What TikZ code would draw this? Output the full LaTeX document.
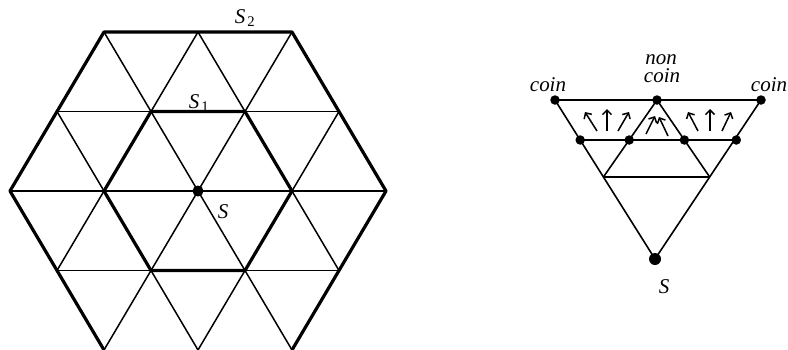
\documentclass[tikz,border=0pt]{standalone}
\usepackage{fontspec}
\setmainfont{Liberation Serif}
\usetikzlibrary{arrows.meta}
\begin{document}
\begin{tikzpicture}[x=1pt,y=-1pt,
  gridline/.style={line width=1.5pt,line join=round},
  boldline/.style={line width=3.2pt,line join=round},
  rline/.style={line width=1.6pt,line join=round},
  dot/.style={circle,fill,inner sep=0pt,minimum size=9.5pt},
  bigdot/.style={circle,fill,inner sep=0pt,minimum size=12pt},
  lbl/.style={font=\fontsize{21}{16}\selectfont\itshape,inner sep=0pt,anchor=base},
  arr/.style={line width=1.5pt,-{Straight Barb[length=4.5pt,width=9pt]}}
]
\useasboundingbox (0,0) rectangle (788,349);
% ---- left: triangular lattice ----
\coordinate (v2x0) at (104,32);
\coordinate (v4x0) at (198,32);
\coordinate (v6x0) at (292,32);
\coordinate (v1x1) at (57,111.5);
\coordinate (v3x1) at (151,111.5);
\coordinate (v5x1) at (245,111.5);
\coordinate (v7x1) at (339,111.5);
\coordinate (v0x2) at (10,191);
\coordinate (v2x2) at (104,191);
\coordinate (v4x2) at (198,191);
\coordinate (v6x2) at (292,191);
\coordinate (v8x2) at (386,191);
\coordinate (v1x3) at (57,270.5);
\coordinate (v3x3) at (151,270.5);
\coordinate (v5x3) at (245,270.5);
\coordinate (v7x3) at (339,270.5);
\coordinate (v2x4) at (104,350);
\coordinate (v4x4) at (198,350);
\coordinate (v6x4) at (292,350);
\draw[gridline] (v1x1) -- (v7x1);
\draw[gridline] (v0x2) -- (v8x2);
\draw[gridline] (v1x3) -- (v7x3);
\draw[gridline] (v1x3) -- (v4x0);
\draw[gridline] (v2x4) -- (v6x0);
\draw[gridline] (v4x4) -- (v7x1);
\draw[gridline] (v2x0) -- (v6x4);
\draw[gridline] (v4x0) -- (v7x3);
\draw[gridline] (v1x1) -- (v4x4);
\draw[boldline] (v3x1) -- (v5x1) -- (v6x2) -- (v5x3) -- (v3x3) -- (v2x2) -- cycle;
\draw[boldline] (v2x4) -- (v0x2) -- (v2x0) -- (v6x0) -- (v8x2) -- (v6x4);
\node[circle,fill,inner sep=0pt,minimum size=11pt] (sl) at (v4x2) {};
\node[lbl] (lS) at (223,218) {S};
\node[lbl] (lS1) at (199,108) {S\hspace{2pt}\textsubscript{\upshape 1}};
\node[lbl] (lS2) at (245,23) {S\hspace{2pt}\textsubscript{\upshape 2}};
% ---- right: triangle ----
\coordinate (cl) at (555,100);
\coordinate (nc) at (657,100);
\coordinate (cr) at (761,100);
\coordinate (sb) at (655,259);
\coordinate (m1) at (580.2,140);
\coordinate (m2) at (629.2,140);
\coordinate (m3) at (684.4,140);
\coordinate (m4) at (736.3,140);
\coordinate (l1) at (603.4,177);
\coordinate (l2) at (709.7,177);
\draw[rline] (cl) -- (cr);
\draw[rline] (cl) -- (sb) -- (cr);
\draw[rline] (m1) -- (m4);
\draw[rline] (l1) -- (nc) -- (l2);
\draw[rline] (l1) -- (l2);
\foreach \p in {cl,nc,cr,m1,m2,m3,m4} \node[dot] (d\p) at (\p) {};
\node[bigdot] (dsb) at (sb) {};
\node[lbl] (tcl) at (548,91) {coin};
\node[lbl] (tcnc) at (662,82) {coin};
\node[lbl] (tnon) at (661,64) {non};
\node[lbl] (tcr) at (769,91) {coin};
\node[lbl] (rS) at (664,293) {S};
% arrows
\draw[arr] (597,131) -- (585,112);
\draw[arr] (607,131) -- (607,109);
\draw[arr] (618,131) -- (629,112);
\draw[arr] (646,134) -- (655,116);
\draw[arr] (668,136) -- (659,117);
\draw[arr] (698,131) -- (688,112);
\draw[arr] (710,131) -- (710,109);
\draw[arr] (722,131) -- (731,112);
\end{tikzpicture}
\end{document}
